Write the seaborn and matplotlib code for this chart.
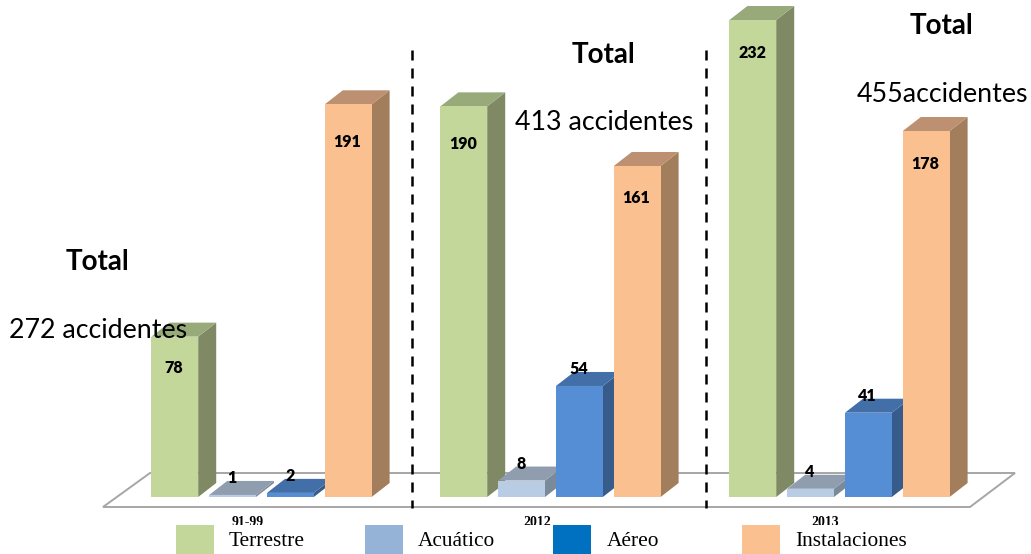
"""Accidentes por modo de transporte: barras con aspecto 3D."""

import matplotlib
matplotlib.use("Agg")
import matplotlib.pyplot as plt
import pandas as pd
import seaborn as sns
from matplotlib.patches import Polygon, Rectangle
from matplotlib.transforms import Affine2D

# ── Data ───────────────────────────────────────────────────────────────────────
PERIODS = ["91-99", "2012", "2013"]
MODES = ["Terrestre", "Acuático", "Aéreo", "Instalaciones"]
TERRESTRE = [78, 190, 232]
ACUATICO = [1, 8, 4]
AEREO = [2, 54, 41]
INSTALACIONES = [191, 161, 178]
TOTALS = ["272 accidentes", "413 accidentes", "455accidentes"]

# ── Style ──────────────────────────────────────────────────────────────────────
W, H = 1031, 554
FRONT = ["#C4D79B", "#B8CCE4", "#558ED5", "#FAC090"]
TOP = ["#98A97A", "#8F9DAF", "#426FA8", "#BC9070"]
SIDE = ["#7F8A65", "#7A8A9B", "#375C8C", "#A27E5C"]
SWATCH = ["#C4D79B", "#95B3D7", "#0070C0", "#FAC090"]
PX_PER_CAT = 289.0
PX_PER_UNIT = 2.056
DEPTH_X, DEPTH_Y = 18, 14
SANS = "Lato"
SERIF = "Liberation Serif"
# distance of the inside labels from the bar top, px
INSIDE_GAP = {78: 31, 190: 38, 191: 38, 161: 32, 178: 33, 232: 33}

df = pd.DataFrame({
    "periodo": PERIODS * 4,
    "modo": [m for m in MODES for _ in PERIODS],
    "valor": TERRESTRE + ACUATICO + AEREO + INSTALACIONES,
})

sns.set_theme(style="white")
fig = plt.figure(figsize=(W / 100, H / 100), dpi=100)
ax = fig.add_axes([0, 0, 1, 1])

sns.barplot(data=df, x="periodo", y="valor", hue="modo", order=PERIODS, hue_order=MODES,
            palette=FRONT, saturation=1, width=0.8, gap=0.19, legend=False, ax=ax)

# data limits chosen so that category 0 sits at px 261 and value 0 at px 497
ax.set_xlim(-261.5 / PX_PER_CAT, (W - 261.5) / PX_PER_CAT)
ax.set_ylim(-(H - 497) / PX_PER_UNIT, 497 / PX_PER_UNIT)
ax.set_axis_off()

# pixel coordinates of the picture, for the annotations
px = Affine2D().scale(1 / W, -1 / H).translate(0, 1) + fig.transFigure

# ── Floor ──────────────────────────────────────────────────────────────────────
ax.add_patch(Polygon([(103, 507), (150, 473), (1015, 473), (970, 507)], closed=True,
                     facecolor="white", edgecolor="#A6A6A6", lw=1.4, transform=px, zorder=1))

# ── 3D faces and value labels ──────────────────────────────────────────────────
dx = DEPTH_X / PX_PER_CAT
dy = DEPTH_Y / PX_PER_UNIT
for i, cont in enumerate(ax.containers):
    for j, bar in enumerate(cont):
        x0, x1 = bar.get_x(), bar.get_x() + bar.get_width()
        h = bar.get_height()
        z = 3 + j * 10 + i * 2
        bar.set_zorder(z + 1)
        bar.set_linewidth(0)
        ax.add_patch(Polygon([(x1, 0), (x1 + dx, dy), (x1 + dx, h + dy), (x1, h)], closed=True,
                             facecolor=SIDE[i], edgecolor="none", zorder=z))
        ax.add_patch(Polygon([(x0, h), (x1, h), (x1 + dx, h + dy), (x0 + dx, h + dy)], closed=True,
                             facecolor=TOP[i], edgecolor="none", zorder=z))
        # tall bars carry the value inside, short ones above the top face
        offset = -INSIDE_GAP[int(h)] if int(h) in INSIDE_GAP else 17
        ax.annotate(f"{h:.0f}", xy=((x0 + x1) / 2, h), xytext=(-0.5, offset * 0.72),
                    textcoords="offset points", ha="center", va="center",
                    fontsize=11.5, fontweight="heavy", family=SANS, color="black", zorder=60)

# ── Separators ─────────────────────────────────────────────────────────────────
for x in (412, 706):
    ax.plot([x, x], [50, 508], color="black", lw=1.8, dashes=(4, 3.2), transform=px, zorder=50)

# ── Totals ─────────────────────────────────────────────────────────────────────
for x, y_title, y_total, total in zip((98, 604, 942), (262, 55, 26), (331, 122, 94), TOTALS):
    ax.text(x, y_title, "Total", transform=px, ha="center", va="center", fontsize=20,
            fontweight="bold", family=SANS, color="black", zorder=70)
    ax.text(x, y_total, total, transform=px, ha="center", va="center", fontsize=19.3,
            family=SANS, color="black", zorder=70)

# ── Period labels, cut by the legend strip as in the source ────────────────────
for x, label in zip((248, 537, 825), PERIODS):
    ax.text(x, 523, label, transform=px, ha="center", va="center", fontsize=10,
            fontweight="bold", family=SERIF, color="black", zorder=70)
ax.add_patch(Rectangle((0, 525), W, H - 525, facecolor="white", edgecolor="none",
                       transform=px, zorder=71))

# ── Legend ─────────────────────────────────────────────────────────────────────
for x, label_x, color, label in zip((176, 365, 553, 742), (229, 418, 607, 795), SWATCH, MODES):
    ax.add_patch(Rectangle((x, 525), 38, 29, facecolor=color, edgecolor="none",
                           transform=px, zorder=72))
    ax.text(label_x, 542, label, transform=px, ha="left", va="center", fontsize=15.4,
            family=SERIF, color="black", zorder=72)

fig.savefig("out.png", dpi=100)
plt.close(fig)
